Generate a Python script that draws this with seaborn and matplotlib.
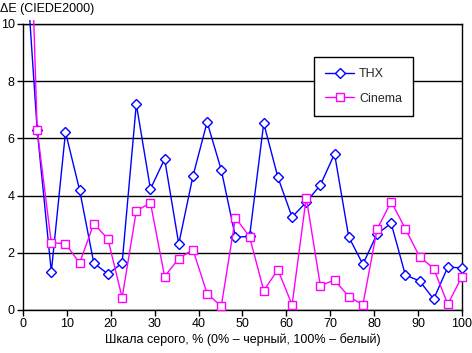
import numpy as np
import pandas as pd
import matplotlib
matplotlib.use("Agg")
import matplotlib.pyplot as plt
import seaborn as sns
from matplotlib.patches import Rectangle
from matplotlib.lines import Line2D

# Data
gray_levels = [round(i * 100 / 31, 2) for i in range(32)]
thx = [13.7, 6.3, 1.33, 6.22, 4.19, 1.64, 1.26, 1.64, 7.2, 4.23, 5.28, 2.31,
       4.68, 6.57, 4.9, 2.55, 2.57, 6.53, 4.64, 3.25, 3.77, 4.37, 5.46, 2.56,
       1.6, 2.66, 3.03, 1.22, 1.02, 0.38, 1.5, 1.47]
cinema = [22.0, 6.3, 2.35, 2.32, 1.64, 3.02, 2.48, 0.43, 3.46, 3.75, 1.17, 1.8,
          2.11, 0.57, 0.13, 3.23, 2.56, 0.68, 1.41, 0.18, 3.93, 0.85, 1.05, 0.47,
          0.18, 2.82, 3.79, 2.84, 1.87, 1.45, 0.2, 1.17]
series_names = ["THX", "Cinema"]
x_ticks = list(range(0, 101, 10))
y_ticks = list(range(0, 11, 2))

df = pd.DataFrame({
    "x": gray_levels * 2,
    "y": thx + cinema,
    "series": [series_names[0]] * len(thx) + [series_names[1]] * len(cinema),
})

sns.set_theme(style="white")
plt.rcParams["font.family"] = ["Liberation Sans", "DejaVu Sans"]

fig = plt.figure(figsize=(4.72, 3.53), dpi=100)
ax = fig.add_axes([23 / 472, 1 - 310 / 353, 439 / 472, 286 / 353])

palette = {"THX": "#0000FF", "Cinema": "#FF00FF"}
markers = {"THX": "D", "Cinema": "s"}
sns.lineplot(data=df, x="x", y="y", hue="series", style="series",
             palette=palette, markers=markers, dashes=False, ax=ax,
             linewidth=1.0, markersize=5.5, markerfacecolor="white",
             markeredgewidth=1.0, legend=False, zorder=3)
# marker edges match line colours; let lines run a few pixels above the top
clip_rect = Rectangle((-0.02, -0.03), 1.04, 1.03 + 4 / 286,
                      transform=ax.transAxes, facecolor="none", edgecolor="none")
for line in ax.lines:
    line.set_markeredgecolor(line.get_color())
    line.set_clip_path(clip_rect)

ax.set_xlim(0, 100)
ax.set_ylim(0, 10)
ax.set_xticks(x_ticks)
ax.set_yticks(y_ticks)
ax.tick_params(axis="both", direction="out", length=4, width=1, color="black",
               labelsize=9, labelcolor="black", pad=2)
ax.tick_params(axis="x", bottom=True)
ax.tick_params(axis="y", left=True)
ax.yaxis.grid(True, color="black", linewidth=1)
ax.xaxis.grid(False)
for sp in ax.spines.values():
    sp.set_color("black")
    sp.set_linewidth(1)
    sp.set_visible(True)
ax.set_facecolor("white")

ax.set_xlabel("Шкала серого, % (0% – черный, 100% – белый)", fontsize=9,
              color="black", labelpad=2)
ax.set_ylabel("")
fig.text(0.0, 1 - 9 / 353, "ΔE (CIEDE2000)", fontsize=9, color="black",
         ha="left", va="center")

handles = [Line2D([], [], color=palette[n], marker=markers[n], markersize=5.5,
                  markerfacecolor="white", markeredgecolor=palette[n],
                  linewidth=1.0) for n in series_names]
leg = ax.legend(handles, series_names, loc="upper left",
                bbox_to_anchor=(0.663, 0.885), fontsize=9, frameon=True,
                fancybox=False, edgecolor="black", framealpha=1,
                handlelength=2.3, borderpad=0.9, labelspacing=1.0,
                handletextpad=0.4, borderaxespad=0)
leg.get_frame().set_linewidth(1)
leg.set_zorder(5)

fig.savefig("out.png", dpi=100)
